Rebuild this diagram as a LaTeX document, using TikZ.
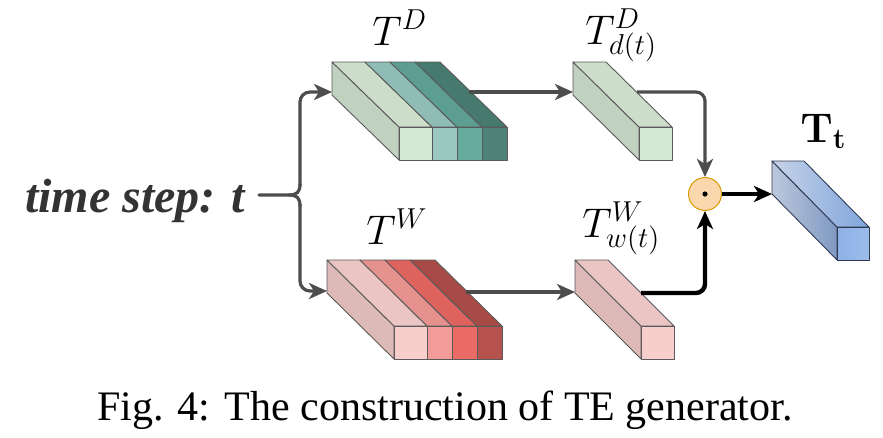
\documentclass[tikz,border=0pt]{standalone}
\usepackage[no-math]{fontspec}
\setmainfont{Liberation Serif}
\usetikzlibrary{arrows.meta}

\definecolor{edgeC}{HTML}{5A5A5A}
\definecolor{lineG}{HTML}{4D4D4D}
% green family
\definecolor{gL}{HTML}{C1D1BF}
\definecolor{gT1}{HTML}{CCDDCA}\definecolor{gF1}{HTML}{D5E8D4}
\definecolor{gT2}{HTML}{8FBDB6}\definecolor{gF2}{HTML}{9AC7BF}
\definecolor{gT3}{HTML}{5C9F92}\definecolor{gF3}{HTML}{67AB9F}
\definecolor{gT4}{HTML}{467A6F}\definecolor{gF4}{HTML}{4F8276}
% red family
\definecolor{rL}{HTML}{DDB9B8}
\definecolor{rT1}{HTML}{EAC5C4}\definecolor{rF1}{HTML}{F8CECC}
\definecolor{rT2}{HTML}{E5928F}\definecolor{rF2}{HTML}{F19C99}
\definecolor{rT3}{HTML}{DE625D}\definecolor{rF3}{HTML}{EA6B66}
\definecolor{rT4}{HTML}{A84B47}\definecolor{rF4}{HTML}{B5524D}
% blue
\definecolor{bA}{HTML}{C7D3E8}\definecolor{bB}{HTML}{7FA5DD}
\definecolor{bLa}{HTML}{BCC8DC}\definecolor{bLb}{HTML}{7F98C2}
\definecolor{bFa}{HTML}{8EB0E6}\definecolor{bFb}{HTML}{9CBDEB}
\definecolor{bEdge}{HTML}{2F3A50}
\definecolor{circF}{HTML}{FAD7AC}\definecolor{circD}{HTML}{D79B00}
\definecolor{txtG}{HTML}{333333}

% x y w h dx dy topcolor frontcolor
\newcommand{\mystripe}[8]{%
  \filldraw[fill=#7] (#1,#2) -- ++(#3,0) -- ++(#5,#6) -- ++(-#3,0) -- cycle;
  \filldraw[fill=#8] (#1+#5,#2+#6) rectangle ++(#3,#4);}
% x y h dx dy color
\newcommand{\myleft}[6]{%
  \filldraw[fill=#6] (#1,#2) -- ++(#4,#5) -- ++(0,#3) -- ++(-#4,-#5) -- cycle;}

\tikzset{
  gline/.style={draw=lineG, line width=3.2pt},
  garrow/.style={gline, -{Stealth[length=18pt,width=16pt,inset=5pt]}},
  barrow/.style={draw=black, line width=4.4pt, -{Stealth[length=18pt,width=16pt,inset=5pt]}},
  lab/.style={inner sep=0pt, anchor=base west, font=\fontsize{20}{24}\selectfont, scale=2},
  boxedge/.style={draw=edgeC, line width=0.9pt, line join=round}
}

\begin{document}
\begin{tikzpicture}[x=1pt,y=-1pt]
\useasboundingbox (0,0) rectangle (883,437);

% ---- big green block
\begin{scope}[boxedge]
\myleft{332}{62}{33}{67}{65}{gL}
\mystripe{332}{62}{33}{33}{67}{65}{gT1}{gF1}
\mystripe{365}{62}{25}{33}{67}{65}{gT2}{gF2}
\mystripe{390}{62}{25}{33}{67}{65}{gT3}{gF3}
\mystripe{415}{62}{25}{33}{67}{65}{gT4}{gF4}
\end{scope}

% ---- big red block
\begin{scope}[boxedge]
\myleft{327}{260}{33}{67}{66}{rL}
\mystripe{327}{260}{33}{33}{67}{66}{rT1}{rF1}
\mystripe{360}{260}{25}{33}{67}{66}{rT2}{rF2}
\mystripe{385}{260}{25}{33}{67}{66}{rT3}{rF3}
\mystripe{410}{260}{25}{33}{67}{66}{rT4}{rF4}
\end{scope}

% ---- small green
\begin{scope}[boxedge]
\myleft{573}{62}{33}{66}{65}{gL}
\mystripe{573}{62}{33}{33}{66}{65}{gT1}{gF1}
\end{scope}

% ---- small red
\begin{scope}[boxedge]
\myleft{575}{260}{33}{66}{66}{rL}
\mystripe{575}{260}{33}{33}{66}{66}{rT1}{rF1}
\end{scope}

% ---- blue output block
\begin{scope}[draw=bEdge, line width=0.9pt, line join=round]
\path[left color=bLa, right color=bLb, draw=bEdge] (772,161) -- ++(65,66) -- ++(0,33) -- ++(-65,-66) -- cycle;
\path[left color=bA, right color=bB, draw=bEdge] (772,161) -- ++(32,0) -- ++(65,66) -- ++(-32,0) -- cycle;
\path[left color=bFa, right color=bFb, draw=bEdge] (837,227) rectangle ++(32,33);
\end{scope}

% ---- connector coordinates
\coordinate (tsEnd) at (259,195);
\coordinate (gbIn) at (332,92);
\coordinate (rbIn) at (327,291);
\coordinate (gbOut) at (469,92);
\coordinate (sgIn) at (573,92);
\coordinate (rbOut) at (466,292);
\coordinate (srIn) at (575,292);
\coordinate (sgOut) at (637,92);
\coordinate (srOut) at (641,293);
\coordinate (blueIn) at (772,194);

% ---- circle
\node[circle, draw=circD, fill=circF, line width=1pt, minimum size=33pt, inner sep=0pt] (odot) at (705,194) {};
\fill (odot.center) circle (2.6pt);

% ---- connectors
\draw[gline, line cap=round] (tsEnd) -- (289,195) .. controls (297,195) and (300,192) .. (300,184);
\draw[gline, line cap=round] (289,195) .. controls (297,195) and (300,198) .. (300,206);
\draw[garrow, rounded corners=10pt] (300,186) -- (300,92) -- (gbIn);
\draw[garrow, rounded corners=10pt] (300,204) -- (300,291) -- (rbIn);
\draw[garrow] (gbOut) -- (sgIn);
\draw[garrow] (rbOut) -- (srIn);
\draw[garrow, rounded corners=9pt] (sgOut) -| (odot.north);
\draw[barrow, rounded corners=9pt] (srOut) -| (odot.south);
\draw[barrow] (odot.east) -- (blueIn);

% ---- labels
\node[lab] (lTD) at (372,45) {$T^D$};
\node[lab] (lTDd) at (585,44) {$T^D_{d(t)}$};
\node[lab] (lTW) at (366,244) {$T^W$};
\node[lab] (lTWw) at (582,237) {$T^W_{w(t)}$};
\node[lab] (lTt) at (800,142) {$\mathbf{T}_{\mathbf{t}}$};
\node[inner sep=0pt, anchor=base west, text=txtG, font=\fontsize{48}{56}\selectfont\bfseries\itshape] (ts) at (25,212) {time step: t};
\node[inner sep=0pt, anchor=base, font=\fontsize{42}{50}\selectfont] (cap) at (445,420) {Fig. 4: The construction of TE generator.};
\end{tikzpicture}
\end{document}
